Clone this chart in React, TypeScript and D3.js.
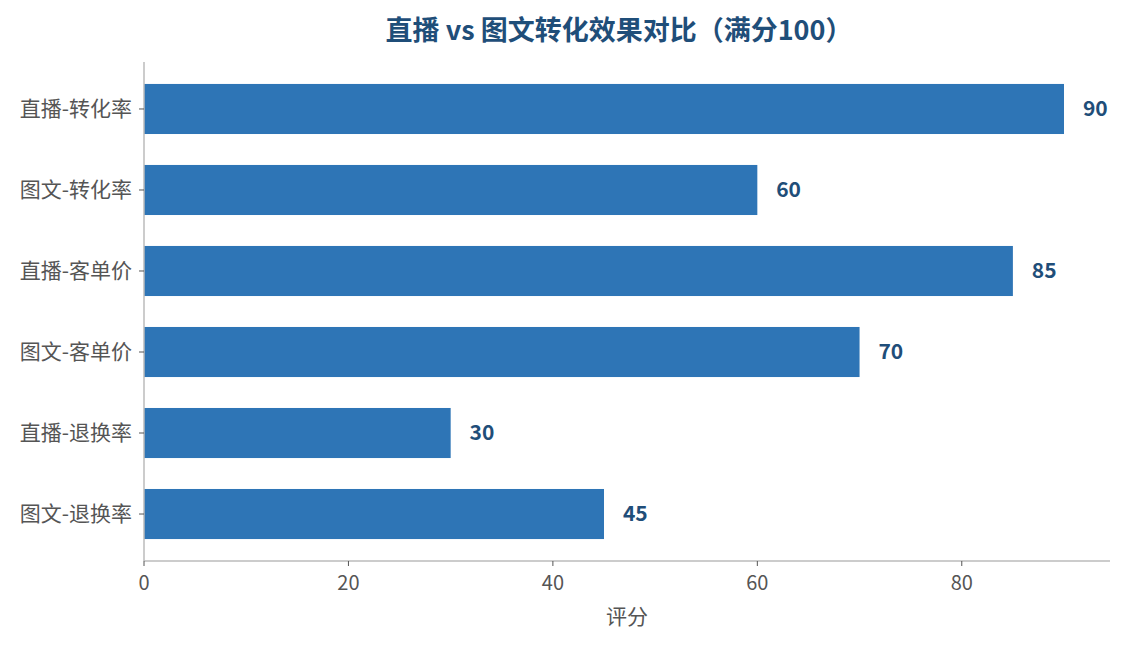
import { useEffect, useRef } from "react";
import * as d3 from "d3";

const categories = ["直播-转化率", "图文-转化率", "直播-客单价", "图文-客单价", "直播-退换率", "图文-退换率"];
const scores = [90, 60, 85, 70, 30, 45];
const xTicks = [0, 20, 40, 60, 80];
const title = "直播 vs 图文转化效果对比（满分100）";
const xLabel = "评分";

const FONT = "'Noto Sans CJK SC', 'Noto Sans', sans-serif";

export default function App() {
  const svgRef = useRef<SVGSVGElement>(null);
  const width = 1124;
  const height = 645;

  useEffect(() => {
    if (!svgRef.current) return;
    const svg = d3.select(svgRef.current);
    svg.selectAll("*").remove();

    const margin = { top: 62, right: 14, bottom: 84, left: 144 };
    const innerW = width - margin.left - margin.right;
    const innerH = height - margin.top - margin.bottom;

    const g = svg.append("g").attr("transform", `translate(${margin.left},${margin.top})`);

    // x: 0 .. max*1.05, like the source chart
    const x = d3.scaleLinear().domain([0, d3.max(scores)! * 1.05]).range([0, innerW]);
    // y: index positions with a small margin
    const y = d3.scaleLinear().domain([-0.58, categories.length - 1 + 0.58]).range([0, innerH]);
    const barH = (y(0.3) - y(-0.3)) * 1.03;

    // bars
    g.selectAll(".bar")
      .data(scores)
      .enter()
      .append("rect")
      .attr("x", x(0))
      .attr("y", (d, i) => y(i) - barH / 2)
      .attr("width", (d) => x(d) - x(0))
      .attr("height", barH)
      .attr("fill", "#2e75b6");

    // value labels
    g.selectAll(".val")
      .data(scores)
      .enter()
      .append("text")
      .attr("x", (d) => x(d + 1.85))
      .attr("y", (d, i) => y(i))
      .attr("dy", "0.35em")
      .style("font-family", FONT)
      .style("font-size", "21px")
      .style("font-weight", "700")
      .style("fill", "#1f4e79")
      .text((d) => d);

    // spines
    g.append("line")
      .attr("x1", 0).attr("x2", 0).attr("y1", 0).attr("y2", innerH)
      .style("stroke", "#bbbbbb").style("stroke-width", 1.5);
    g.append("line")
      .attr("x1", 0).attr("x2", innerW).attr("y1", innerH).attr("y2", innerH)
      .style("stroke", "#bbbbbb").style("stroke-width", 1.5);

    // y ticks
    const yt = g.selectAll(".ytick").data(categories).enter().append("g")
      .attr("transform", (d, i) => `translate(0,${y(i)})`);
    yt.append("line").attr("x1", -5).attr("x2", 0).style("stroke", "#555").style("stroke-width", 1);
    yt.append("text")
      .attr("x", -12)
      .attr("dy", "0.35em")
      .attr("text-anchor", "end")
      .style("font-family", FONT)
      .style("font-size", "21px")
      .style("fill", "#555555")
      .text((d) => d);

    // x ticks
    const xt = g.selectAll(".xtick").data(xTicks).enter().append("g")
      .attr("transform", (d) => `translate(${x(d)},${innerH})`);
    xt.append("line").attr("y1", 0).attr("y2", 5).style("stroke", "#555").style("stroke-width", 1);
    xt.append("text")
      .attr("y", 22)
      .attr("dy", "0.35em")
      .attr("text-anchor", "middle")
      .style("font-family", FONT)
      .style("font-size", "20px")
      .style("fill", "#555555")
      .text((d) => d);

    // axis label
    g.append("text")
      .attr("x", innerW / 2)
      .attr("y", innerH + 56)
      .attr("dy", "0.35em")
      .attr("text-anchor", "middle")
      .style("font-family", FONT)
      .style("font-size", "21px")
      .style("fill", "#555555")
      .text(xLabel);

    // title
    svg.append("text")
      .attr("x", margin.left + innerW / 2 - 8)
      .attr("y", 31)
      .attr("dy", "0.35em")
      .attr("text-anchor", "middle")
      .style("font-family", FONT)
      .style("font-size", "27px")
      .style("font-weight", "700")
      .style("fill", "#1f4e79")
      .text(title);
  }, []);

  return (
    <div style={{ position: "absolute", left: 0, top: 0 }}>
      <svg ref={svgRef} width={width} height={height} style={{ display: "block", background: "#fff" }}></svg>
    </div>
  );
}
